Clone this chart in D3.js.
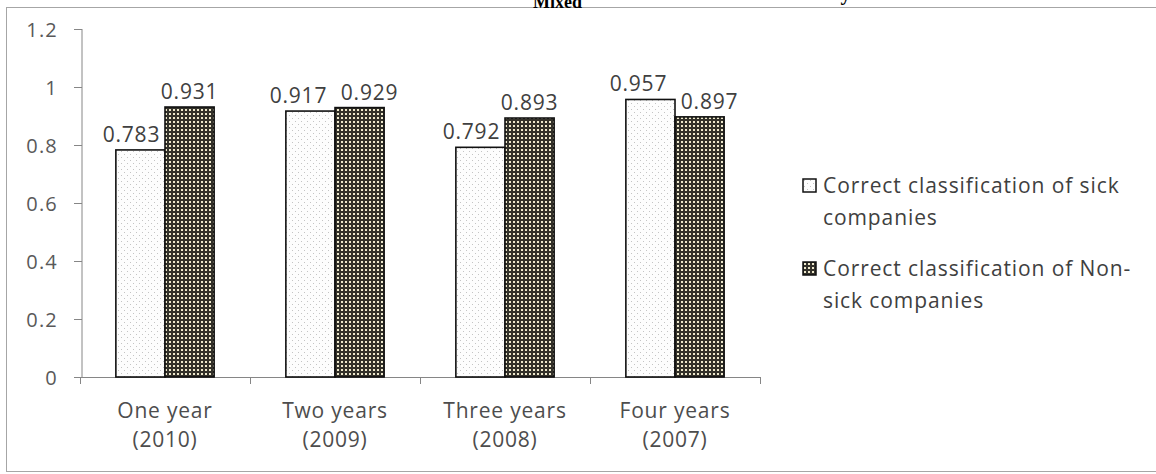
<!DOCTYPE html>
<html>
<head>
<meta charset="utf-8">
<script src="https://cdn.jsdelivr.net/npm/d3@7"></script>
<style>
body { margin: 0; background: #fff; }
svg { display: block; }
.tick text { fill: #595959; }
</style>
</head>
<body>
<svg id="chart" width="1156" height="474"></svg>
<script>
/* globals d3 */

//Chart data
var categories = [["One year", "(2010)"], ["Two years", "(2009)"], ["Three years", "(2008)"], ["Four years", "(2007)"]];
var seriesNames = ["Correct classification of sick companies", "Correct classification of Non-sick companies"];
var legendLines = [["Correct classification of sick", "companies"], ["Correct classification of Non-", "sick companies"]];
var sick = [0.783, 0.917, 0.792, 0.957];
var nonSick = [0.931, 0.929, 0.893, 0.897];
var yTicks = [0, 0.2, 0.4, 0.6, 0.8, 1, 1.2];

var svg = d3.select("#chart");
var font = "'Open Sans', 'Noto Sans', sans-serif";

//Patterns for the two series
var defs = svg.append("defs");
var p1 = defs.append("pattern").attr("id", "pat-sick")
    .attr("patternUnits", "userSpaceOnUse").attr("width", 6).attr("height", 6);
p1.append("rect").attr("width", 6).attr("height", 6).attr("fill", "#fdfdfd");
p1.append("rect").attr("x", 1).attr("y", 1).attr("width", 1).attr("height", 1).attr("fill", "#c4c4c4");
p1.append("rect").attr("x", 4).attr("y", 4).attr("width", 1).attr("height", 1).attr("fill", "#c4c4c4");

var p2 = defs.append("pattern").attr("id", "pat-nonsick")
    .attr("patternUnits", "userSpaceOnUse").attr("width", 4).attr("height", 4);
p2.append("rect").attr("width", 4).attr("height", 4).attr("fill", "#33312a");
p2.append("rect").attr("x", 1).attr("y", 1).attr("width", 2).attr("height", 2).attr("fill", "#eee8cc");

var fills = ["url(#pat-sick)", "url(#pat-nonsick)"];

//Outer frame
svg.append("rect")
    .attr("x", 6.5).attr("y", 7.5)
    .attr("width", 1160).attr("height", 464)
    .attr("fill", "#fff")
    .attr("stroke", "#a6a6a6");

//Title, mostly cut off by the top edge as in the reference
var title = svg.append("text")
    .attr("x", 225).attr("y", 0)
    .attr("font-family", "'Liberation Serif', 'DejaVu Serif', serif")
    .attr("font-weight", "bold")
    .attr("font-size", 21)
    .attr("fill", "#000");
title.append("tspan").text("Chart 6: Results of the Altman's Z");
title.append("tspan").attr("dy", 8).attr("font-size", 18).text("Mixed");
title.append("tspan").attr("dy", -8).text(" Model in Prediction accuracy");

//Scales
var x0 = d3.scaleBand().domain(d3.range(categories.length)).range([80, 760]);
var x1 = d3.scaleBand().domain([0, 1]).range([0, x0.bandwidth()]).paddingOuter(0.73);
var y = d3.scaleLinear().domain([0, 1.2]).range([377, 29]);

//Y axis
var yAxis = svg.append("g")
    .attr("transform", "translate(82,0)")
    .call(d3.axisLeft(y).tickValues(yTicks).tickSize(8).tickPadding(16)
        .tickFormat(function(d) { return String(d); }));
yAxis.selectAll("line").attr("stroke", "#868686");
yAxis.select(".domain").attr("stroke", "#868686").attr("d", "M0," + y(1.2) + "V" + y(0));
yAxis.selectAll("text")
    .attr("font-family", font).attr("font-size", 20)
    .attr("letter-spacing", 1.2).attr("dy", "0.36em");

//X axis with ticks at category boundaries
var xg = svg.append("g");
xg.append("line")
    .attr("x1", 80).attr("x2", 760)
    .attr("y1", y(0) + 0.5).attr("y2", y(0) + 0.5)
    .attr("stroke", "#868686");
xg.selectAll(".xtick")
    .data(d3.range(categories.length + 1))
    .enter().append("line")
    .attr("class", "xtick")
    .attr("x1", function(d) { return Math.round(x0.step() * d + 80) + 0.5; })
    .attr("x2", function(d) { return Math.round(x0.step() * d + 80) + 0.5; })
    .attr("y1", y(0)).attr("y2", y(0) + 7)
    .attr("stroke", "#868686");

xg.selectAll(".xlabel")
    .data(categories)
    .enter().append("text")
    .attr("class", "xlabel")
    .attr("text-anchor", "middle")
    .attr("font-family", font).attr("font-size", 21)
    .attr("letter-spacing", 0.8)
    .attr("fill", "#4d4d4d")
    .each(function(d, i) {
        var t = d3.select(this);
        var cx = x0(i) + x0.bandwidth() / 2;
        t.append("tspan").attr("x", cx).attr("y", 418).text(d[0]);
        t.append("tspan").attr("x", cx).attr("y", 447).text(d[1]);
    });

//Bars
var series = [sick, nonSick];
var groups = svg.selectAll(".series")
    .data(series)
    .enter().append("g")
    .attr("class", "series");

groups.selectAll("rect")
    .data(function(d, s) { return d.map(function(v, i) { return {v: v, i: i, s: s}; }); })
    .enter().append("rect")
    .attr("x", function(d) { return x0(d.i) + x1(d.s); })
    .attr("y", function(d) { return y(d.v); })
    .attr("width", x1.bandwidth())
    .attr("height", function(d) { return y(0) - y(d.v); })
    .attr("fill", function(d) { return fills[d.s]; })
    .attr("stroke", "#111")
    .attr("stroke-width", 1.6);

//Value labels, nudged apart when the two bars of a group are of similar height
function labelShift(d) {
    var close = Math.abs(sick[d.i] - nonSick[d.i]) < 0.07;
    if (d.s === 0) { return close ? -12 : -9; }
    return close ? 10 : 0;
}

groups.selectAll(".value")
    .data(function(d, s) { return d.map(function(v, i) { return {v: v, i: i, s: s}; }); })
    .enter().append("text")
    .attr("class", "value")
    .attr("text-anchor", "middle")
    .attr("font-family", font).attr("font-size", 21)
    .attr("letter-spacing", 0.8)
    .attr("fill", "#404040")
    .attr("x", function(d) { return x0(d.i) + x1(d.s) + x1.bandwidth() / 2 + labelShift(d); })
    .attr("y", function(d) { return y(d.v) - 8; })
    .text(function(d) { return d3.format(".3f")(d.v); });

//Legend
var legend = svg.selectAll(".legend")
    .data(seriesNames)
    .enter().append("g")
    .attr("class", "legend")
    .attr("transform", function(d, i) { return "translate(803," + (179 + i * 83) + ")"; });

legend.append("rect")
    .attr("width", 13).attr("height", 13)
    .attr("fill", function(d, i) { return fills[i]; })
    .attr("stroke", "#111").attr("stroke-width", 1.5);

legend.append("text")
    .attr("font-family", font).attr("font-size", 21)
    .attr("letter-spacing", 0.9)
    .attr("fill", "#404040")
    .each(function(d, i) {
        var t = d3.select(this);
        legendLines[i].forEach(function(line, k) {
            t.append("tspan").attr("x", 20).attr("y", 14 + k * 32).text(line);
        });
    });
</script>
</body>
</html>
